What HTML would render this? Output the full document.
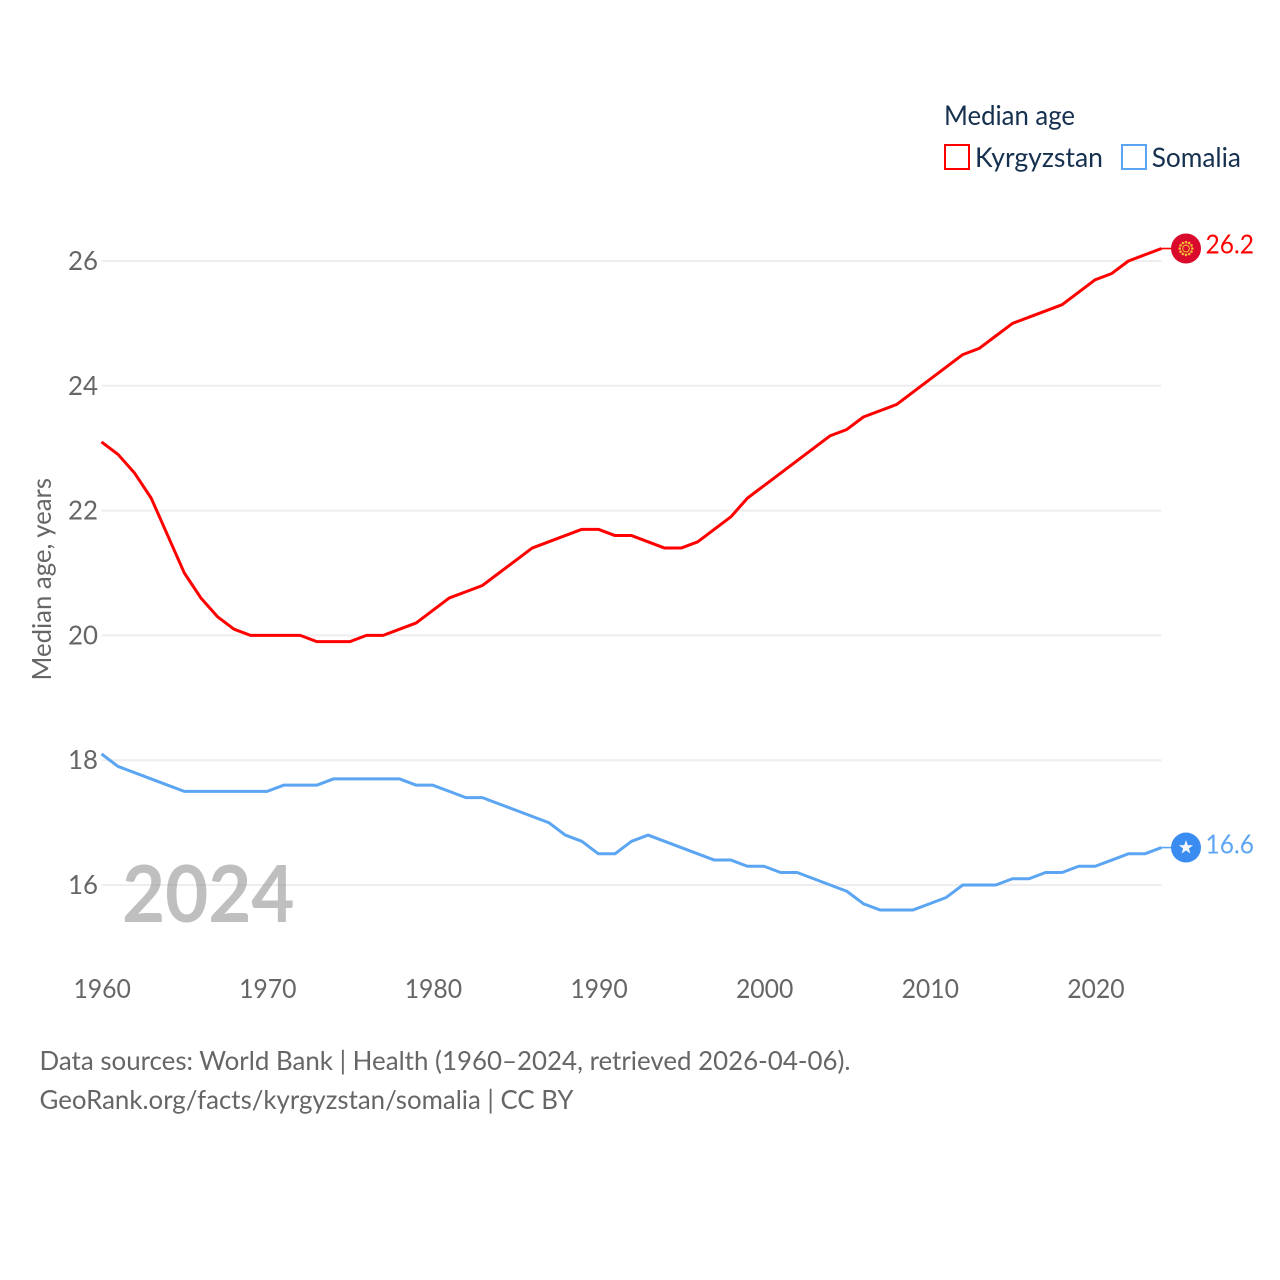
<!DOCTYPE html>
<html lang="en">
<head>
<meta charset="utf-8">
<title>Median age: Kyrgyzstan and Somalia</title>
<style>
html,body{margin:0;padding:0;background:#fff;}
svg{display:block;}
text{font-family:"Lato","Carlito","Liberation Sans",sans-serif;}
</style>
</head>
<body>
<svg id="chart" xmlns="http://www.w3.org/2000/svg" width="1280" height="1280" viewBox="0 0 1280 1280">
  <rect x="0" y="0" width="1280" height="1280" fill="#ffffff"/>
  <g id="grid"></g>
  <g id="yticks"></g>
  <g id="xticks"></g>
  <text transform="translate(51,680.5) rotate(-90)" font-size="26" fill="#666666" textLength="202.5" lengthAdjust="spacingAndGlyphs">Median age, years</text>
  <text x="122" y="922" font-size="79" font-weight="700" fill="#808080" fill-opacity="0.5" textLength="172.5" lengthAdjust="spacingAndGlyphs">2024</text>
  <g id="series"></g>
  <g id="markers"></g>

  <text x="944" y="125" font-size="27" fill="#16304f" textLength="131" lengthAdjust="spacingAndGlyphs">Median age</text>
  <g>
    <rect x="945" y="145" width="24" height="24" fill="#ffffff" stroke="#ff0000" stroke-width="2"/>
    <text x="975" y="167" font-size="27" fill="#16304f" textLength="128" lengthAdjust="spacingAndGlyphs">Kyrgyzstan</text>
  </g>
  <g>
    <rect x="1122" y="145" width="24" height="24" fill="#ffffff" stroke="#5ba5f2" stroke-width="2"/>
    <text x="1151.7" y="167" font-size="27" fill="#16304f" textLength="89.3" lengthAdjust="spacingAndGlyphs">Somalia</text>
  </g>

  <text x="39.5" y="1070" font-size="26.6" fill="#666666" textLength="811" lengthAdjust="spacingAndGlyphs">Data sources: World Bank | Health (1960–2024, retrieved 2026-04-06).</text>
  <text x="39.5" y="1109" font-size="26.6" fill="#666666" textLength="534" lengthAdjust="spacingAndGlyphs">GeoRank.org/facts/kyrgyzstan/somalia | CC BY</text>
</svg>
<script>
var years = [1960,1961,1962,1963,1964,1965,1966,1967,1968,1969,1970,1971,1972,1973,1974,1975,1976,1977,1978,1979,1980,1981,1982,1983,1984,1985,1986,1987,1988,1989,1990,1991,1992,1993,1994,1995,1996,1997,1998,1999,2000,2001,2002,2003,2004,2005,2006,2007,2008,2009,2010,2011,2012,2013,2014,2015,2016,2017,2018,2019,2020,2021,2022,2023,2024];
var kyrgyzstan = [23.1,22.9,22.6,22.2,21.6,21.0,20.6,20.3,20.1,20.0,20.0,20.0,20.0,19.9,19.9,19.9,20.0,20.0,20.1,20.2,20.4,20.6,20.7,20.8,21.0,21.2,21.4,21.5,21.6,21.7,21.7,21.6,21.6,21.5,21.4,21.4,21.5,21.7,21.9,22.2,22.4,22.6,22.8,23.0,23.2,23.3,23.5,23.6,23.7,23.9,24.1,24.3,24.5,24.6,24.8,25.0,25.1,25.2,25.3,25.5,25.7,25.8,26.0,26.1,26.2];
var somalia = [18.1,17.9,17.8,17.7,17.6,17.5,17.5,17.5,17.5,17.5,17.5,17.6,17.6,17.6,17.7,17.7,17.7,17.7,17.7,17.6,17.6,17.5,17.4,17.4,17.3,17.2,17.1,17.0,16.8,16.7,16.5,16.5,16.7,16.8,16.7,16.6,16.5,16.4,16.4,16.3,16.3,16.2,16.2,16.1,16.0,15.9,15.7,15.6,15.6,15.6,15.7,15.8,16.0,16.0,16.0,16.1,16.1,16.2,16.2,16.3,16.3,16.4,16.5,16.5,16.6];
var yTickValues = [16,18,20,22,24,26];
var xTickValues = [1960,1970,1980,1990,2000,2010,2020];

var NS = 'http://www.w3.org/2000/svg';
function xScale(year){ return 101.5 + (year - 1960) * (1161.5 - 101.5) / (2024 - 1960); }
function yScale(v){ return 885 - (v - 16) * (885 - 261) / (26 - 16); }
function make(tag, attrs, parent){
  var el = document.createElementNS(NS, tag);
  for (var k in attrs){ el.setAttribute(k, attrs[k]); }
  parent.appendChild(el);
  return el;
}

var gridGroup = document.getElementById('grid');
var yTickGroup = document.getElementById('yticks');
var xTickGroup = document.getElementById('xticks');
var seriesGroup = document.getElementById('series');
var markerGroup = document.getElementById('markers');

yTickValues.forEach(function(v){
  var line = make('line', {x1:xScale(1960), x2:xScale(2024), y1:yScale(v), y2:yScale(v), stroke:'#eeeeee', 'stroke-width':2}, gridGroup);
  
  
  var label = make('text', {x:98, y:yScale(v) + 9, 'font-size':26.6, fill:'#666666', 'text-anchor':'end', textLength:30, lengthAdjust:'spacingAndGlyphs'}, yTickGroup);
  label.textContent = String(v);
  
  
});

xTickValues.forEach(function(t){
  var label = make('text', {x:xScale(t) + 0.7, y:998, 'font-size':26.6, fill:'#666666', 'text-anchor':'middle', textLength:57.5, lengthAdjust:'spacingAndGlyphs'}, xTickGroup);
  label.textContent = String(t);
  
  
});

function pathFor(values){
  return values.map(function(v, i){
    return (i ? 'L' : 'M') + xScale(years[i]).toFixed(2) + ' ' + yScale(v).toFixed(2);
  }).join(' ');
}

var lineK = make('path', {d:pathFor(kyrgyzstan), fill:'none', stroke:'#ff0000', 'stroke-width':3, 'stroke-linejoin':'round'}, seriesGroup);


var lineS = make('path', {d:pathFor(somalia), fill:'none', stroke:'#5ba5f2', 'stroke-width':3, 'stroke-linejoin':'round'}, seriesGroup);



var lastK = kyrgyzstan[kyrgyzstan.length - 1];
var lastS = somalia[somalia.length - 1];

var stubK = make('line', {x1:xScale(2024), x2:1172, y1:yScale(lastK), y2:yScale(lastK), stroke:'#ff0000', 'stroke-width':1.6}, seriesGroup);


var stubS = make('line', {x1:xScale(2024), x2:1172, y1:yScale(lastS), y2:yScale(lastS), stroke:'#5ba5f2', 'stroke-width':1.6}, seriesGroup);



var flagK = make('g', {transform:'translate(1186,' + yScale(lastK).toFixed(2) + ')'}, markerGroup);


make('circle', {cx:0, cy:0, r:15, fill:'#d90a2c'}, flagK);
for (var a = 0; a < 12; a++){
  var ang = a * Math.PI / 6;
  make('circle', {cx:(6.3 * Math.cos(ang)).toFixed(2), cy:(6.3 * Math.sin(ang)).toFixed(2), r:1.3, fill:'#f5b93a'}, flagK);
}
make('circle', {cx:0, cy:0, r:3.4, fill:'none', stroke:'#f0b030', 'stroke-width':1.2}, flagK);

var flagS = make('g', {transform:'translate(1186,' + yScale(lastS).toFixed(2) + ')'}, markerGroup);


make('circle', {cx:0, cy:0, r:15, fill:'#3a8cf0'}, flagS);
make('polygon', {points:'0,-7.5 1.8,-2.4 7.1,-2.3 2.9,0.9 4.4,6 0,3 -4.4,6 -2.9,0.9 -7.1,-2.3 -1.8,-2.4', fill:'#f2f6fc'}, flagS);

var valueK = make('text', {x:1205.5, y:(yScale(lastK) + 5).toFixed(2), 'font-size':26.6, fill:'#ff0000', textLength:48.5, lengthAdjust:'spacingAndGlyphs'}, markerGroup);
valueK.textContent = lastK.toFixed(1);


var valueS = make('text', {x:1205.5, y:(yScale(lastS) + 6).toFixed(2), 'font-size':26.6, fill:'#5ba5f2', textLength:48.5, lengthAdjust:'spacingAndGlyphs'}, markerGroup);
valueS.textContent = lastS.toFixed(1);


</script>
</body>
</html>
